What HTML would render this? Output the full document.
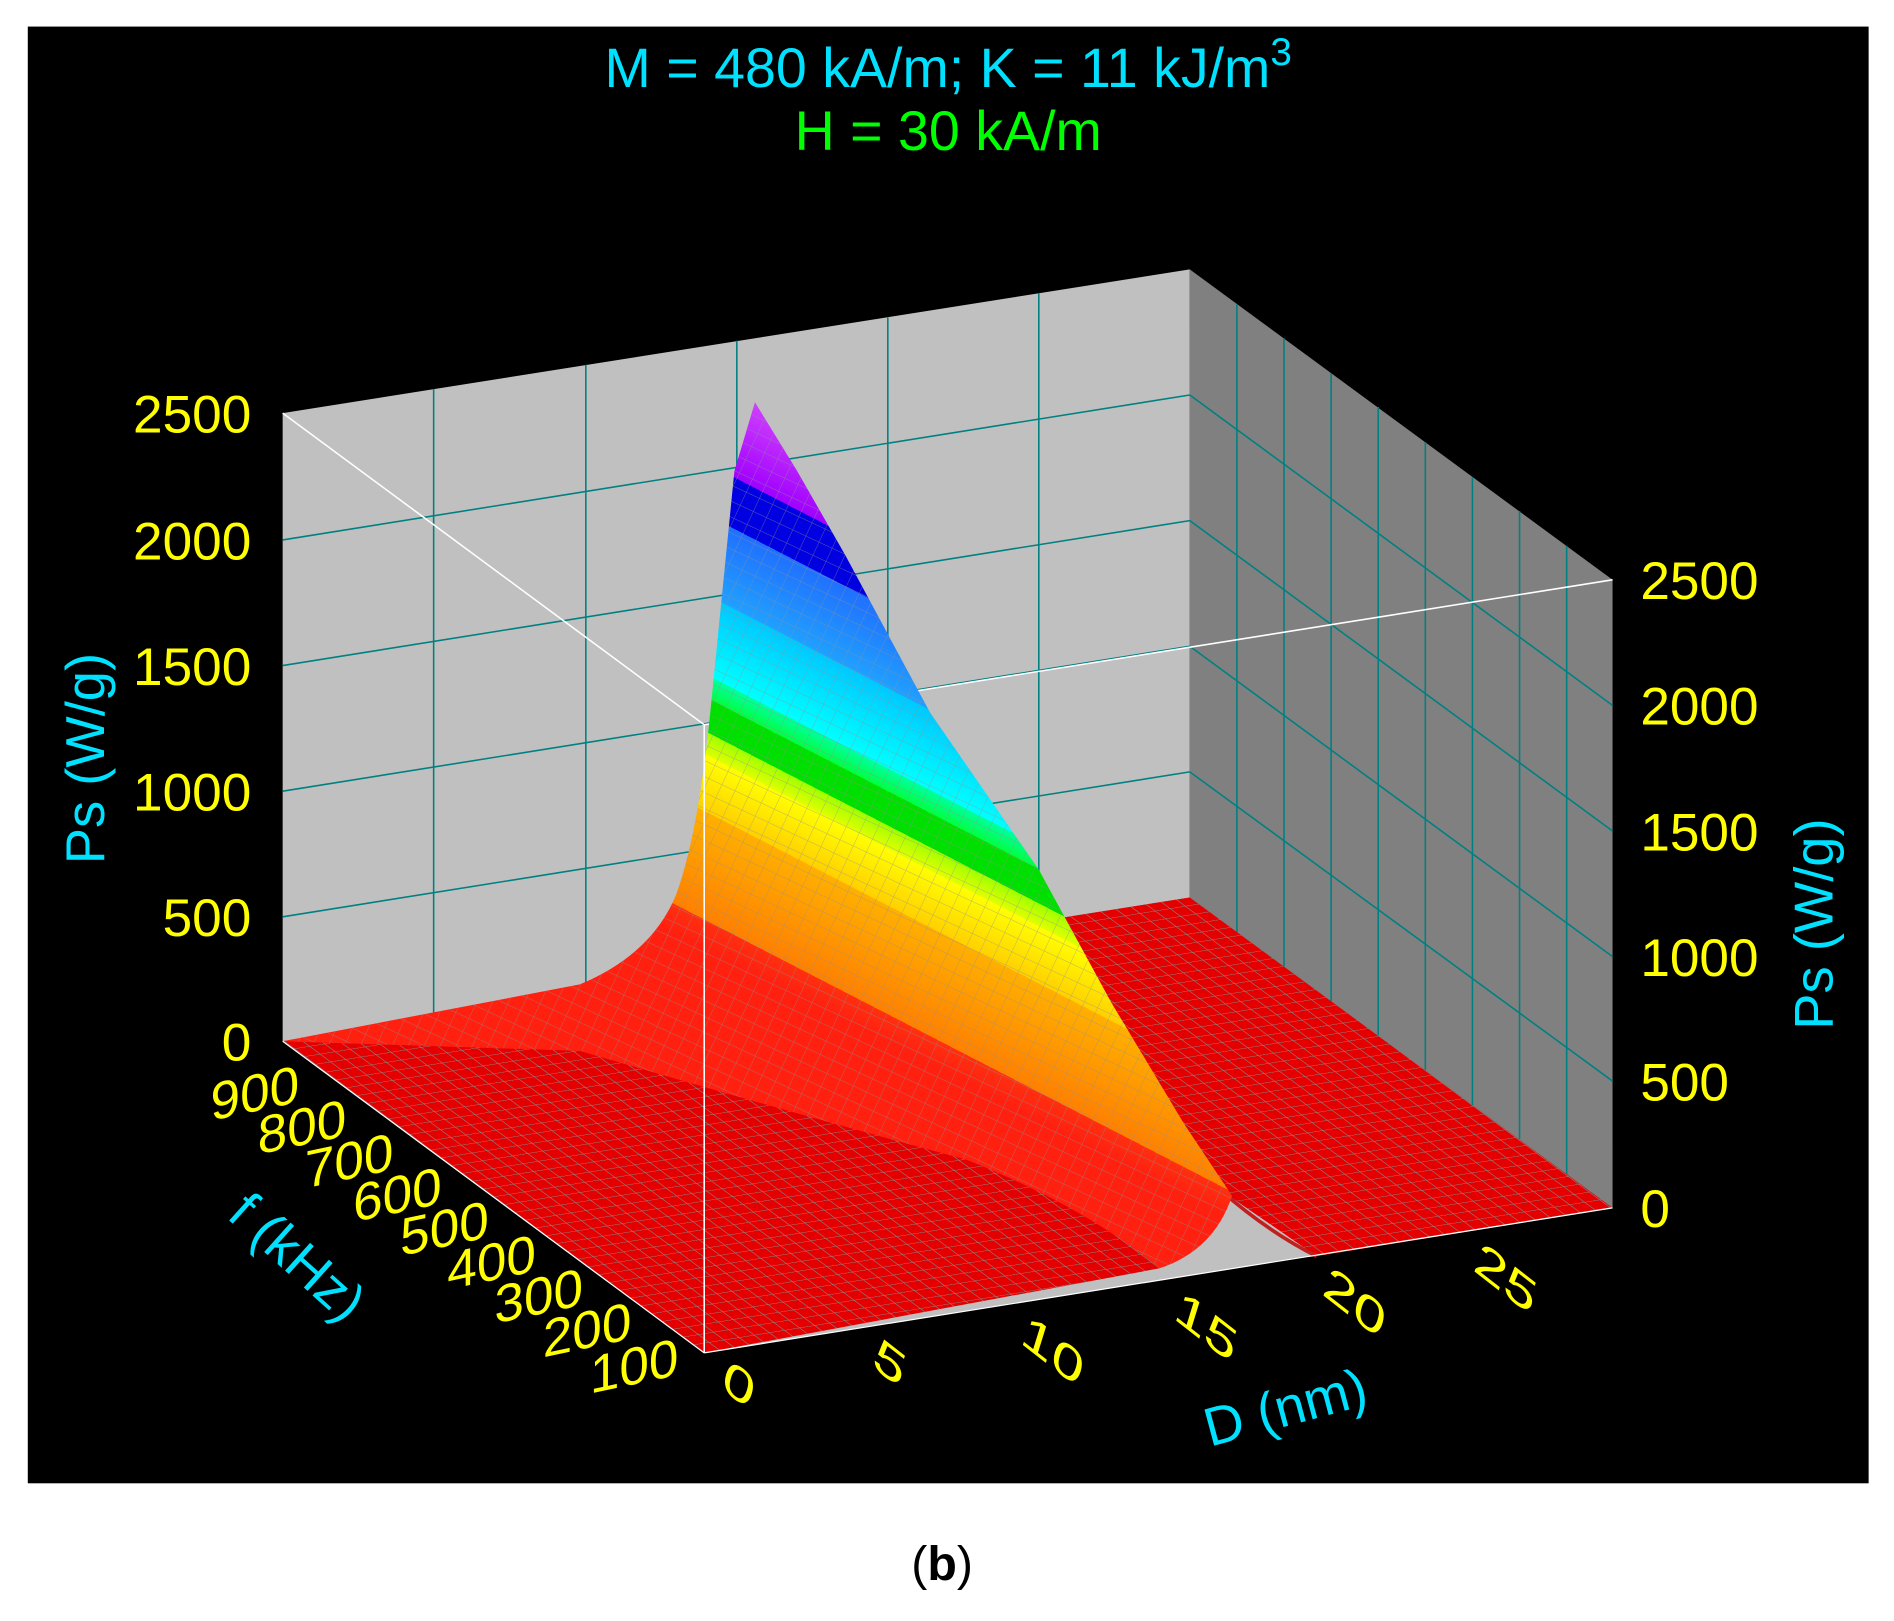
<!DOCTYPE html>
<html><head><meta charset="utf-8"><style>
html,body{margin:0;padding:0;background:#fff;}
svg{display:block;}
text{font-family:"Liberation Sans",Arial,sans-serif;}
</style></head><body>
<svg width="1894" height="1621" viewBox="0 0 1568 1342" xmlns="http://www.w3.org/2000/svg">
<defs>
<linearGradient id="rg" gradientUnits="userSpaceOnUse" x1="625" y1="333" x2="432" y2="707">
<stop offset="0" stop-color="#d040ff"/><stop offset="0.15" stop-color="#a000ff"/>
<stop offset="0.15" stop-color="#0000e0"/><stop offset="0.24" stop-color="#0000e0"/>
<stop offset="0.24" stop-color="#2070ff"/><stop offset="0.38" stop-color="#20a0ff"/>
<stop offset="0.38" stop-color="#00c8ff"/><stop offset="0.52" stop-color="#00ffff"/>
<stop offset="0.52" stop-color="#00ffa0"/><stop offset="0.56" stop-color="#00ff40"/>
<stop offset="0.56" stop-color="#00e000"/><stop offset="0.62" stop-color="#00e000"/>
<stop offset="0.62" stop-color="#a0ff00"/><stop offset="0.66" stop-color="#e0ff00"/>
<stop offset="0.66" stop-color="#ffff00"/><stop offset="0.76" stop-color="#ffd000"/>
<stop offset="0.76" stop-color="#ffb000"/><stop offset="0.95" stop-color="#ff8000"/>
<stop offset="0.95" stop-color="#ff3010"/><stop offset="1" stop-color="#ff2010"/>
</linearGradient>
<pattern id="mesh" width="12" height="12" patternUnits="userSpaceOnUse" patternTransform="rotate(25)">
<path d="M0 0H12M0 0V12" stroke="#909090" stroke-width="0.8" opacity="0.6"/>
</pattern>
<pattern id="fmesh" width="1" height="1" patternUnits="userSpaceOnUse" patternTransform="matrix(12.5 -2 -8.7 -6.45 583 1120)">
<path d="M0 0H1M0 0V1" stroke="#8a8a8a" stroke-width="0.1" fill="none"/>
</pattern>
</defs>
<rect x="23" y="22" width="1524" height="1206" fill="#000"/>
<text x="785" y="72" font-size="46" fill="#00e0ff" text-anchor="middle">M = 480 kA/m;  K = 11 kJ/m<tspan dy="-18" font-size="32">3</tspan></text>
<text x="785" y="124" font-size="46" fill="#00ff00" text-anchor="middle">H = 30 kA/m</text>
<polygon points="234,342 985,223 985,743 234,862" fill="#c0c0c0"/>
<polygon points="985,223 1335,480 1335,1000 985,743" fill="#808080"/>
<polygon points="234,862 985,743 1335,1000 583,1120" fill="#c0c0c0"/>
<g stroke="#008080" stroke-width="1.3">
<line x1="234" y1="447" x2="985" y2="327"/><line x1="234" y1="551" x2="985" y2="431"/>
<line x1="234" y1="655" x2="985" y2="535"/><line x1="234" y1="759" x2="985" y2="639"/>
<line x1="359" y1="322" x2="359" y2="842"/><line x1="485" y1="302" x2="485" y2="822"/>
<line x1="610" y1="282" x2="610" y2="802"/><line x1="735" y1="263" x2="735" y2="783"/>
<line x1="860" y1="243" x2="860" y2="763"/>
<line x1="985" y1="327" x2="1335" y2="584"/><line x1="985" y1="431" x2="1335" y2="688"/>
<line x1="985" y1="535" x2="1335" y2="792"/><line x1="985" y1="639" x2="1335" y2="895"/>
<line x1="1024" y1="252" x2="1024" y2="772"/><line x1="1063" y1="280" x2="1063" y2="800"/>
<line x1="1102" y1="309" x2="1102" y2="829"/><line x1="1141" y1="337" x2="1141" y2="857"/>
<line x1="1180" y1="366" x2="1180" y2="886"/><line x1="1219" y1="395" x2="1219" y2="915"/>
<line x1="1258" y1="423" x2="1258" y2="943"/><line x1="1297" y1="452" x2="1297" y2="972"/>
</g>
<line x1="234" y1="342" x2="583" y2="600" stroke="#fff" stroke-width="1.3"/>
<line x1="583" y1="600" x2="1335" y2="480" stroke="#fff" stroke-width="1.3"/>
<polygon points="234,862 985,743 1335,1000 1090,1040 1010,985 960,1050 583,1120" fill="#e40000"/>
<polygon points="234,862 985,743 1335,1000 1090,1040 1010,985 960,1050 583,1120" fill="url(#fmesh)"/>
<polygon points="960,1050 1010,985 1090,1040" fill="#c0c0c0"/>
<path d="M1010,985 Q1050,1020 1090,1040" stroke="#c02020" stroke-width="3" fill="none"/>
<path d="M234,862 L480,815 Q540,790 560,740 Q578,690 588,590 L608,390 L625,333 L660,390 L700,460 L770,590 L860,720 L920,830 L980,930 L1020,990 Q1005,1035 960,1050 Q900,1000 800,960 Q650,920 480,870 Z" fill="url(#rg)"/>
<path d="M234,862 L480,815 Q540,790 560,740 Q578,690 588,590 L608,390 L625,333 L660,390 L700,460 L770,590 L860,720 L920,830 L980,930 L1020,990 Q1005,1035 960,1050 Q900,1000 800,960 Q650,920 480,870 Z" fill="url(#mesh)"/>
<line x1="583" y1="600" x2="583" y2="1120" stroke="#fff" stroke-width="1.3"/>
<line x1="234" y1="862" x2="583" y2="1120" stroke="#fff" stroke-width="1"/>
<line x1="583" y1="1120" x2="1335" y2="1000" stroke="#fff" stroke-width="1"/>
<g font-size="44" fill="#ffff00">
<g text-anchor="end">
<text x="208" y="358">2500</text><text x="208" y="463">2000</text><text x="208" y="567">1500</text>
<text x="208" y="671">1000</text><text x="208" y="775">500</text><text x="208" y="878">0</text>
</g>
<text x="1358" y="496">2500</text><text x="1358" y="600">2000</text><text x="1358" y="704">1500</text>
<text x="1358" y="808">1000</text><text x="1358" y="911">500</text><text x="1358" y="1016">0</text>
<g text-anchor="middle">
<text transform="translate(211,920) skewY(-12)">900</text>
<text transform="translate(250,948) skewY(-12)">800</text>
<text transform="translate(289,976) skewY(-12)">700</text>
<text transform="translate(329,1004) skewY(-12)">600</text>
<text transform="translate(368,1032) skewY(-12)">500</text>
<text transform="translate(407,1060) skewY(-12)">400</text>
<text transform="translate(446,1088) skewY(-12)">300</text>
<text transform="translate(486,1116) skewY(-12)">200</text>
<text transform="translate(525,1146) skewY(-12)">100</text>
<text transform="translate(608,1158) skewY(38) skewX(-14)">0</text>
<text transform="translate(733,1140) skewY(38) skewX(-14)">5</text>
<text transform="translate(868,1130) skewY(38) skewX(-14)">10</text>
<text transform="translate(995,1110) skewY(38) skewX(-14)">15</text>
<text transform="translate(1118,1090) skewY(38) skewX(-14)">20</text>
<text transform="translate(1243,1070) skewY(38) skewX(-14)">25</text>
</g>
</g>
<g font-size="45" fill="#00e0ff" text-anchor="middle">
<text transform="translate(86,628) rotate(-90)">Ps (W/g)</text>
<text transform="translate(1517,765) rotate(-90)">Ps (W/g)</text>
<text transform="translate(236,1052) rotate(42)">f (kHz)</text>
<text transform="translate(1068,1180) rotate(-15)">D (nm)</text>
</g>
<text x="780" y="1308" font-size="40" font-family="Liberation Serif" fill="#000" text-anchor="middle">(<tspan font-weight="bold">b</tspan>)</text>
</svg>
</body></html>
